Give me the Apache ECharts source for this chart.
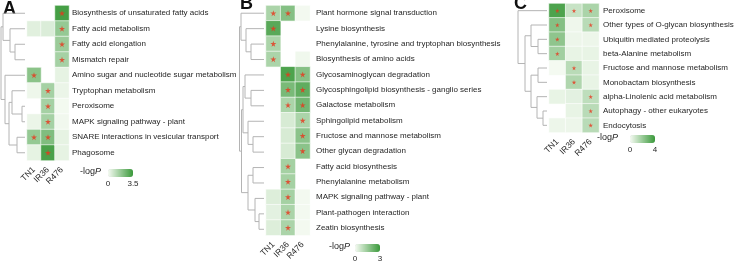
<!DOCTYPE html>
<html lang="en">
<head>
<meta charset="UTF-8">
<title>KEGG heatmaps</title>
<script src="https://cdn.jsdelivr.net/npm/echarts@6/dist/echarts.min.js"></script>
<style>html,body{margin:0;padding:0;background:#fff}</style>
</head>
<body>
<div id="main" style="width:744px;height:263px;"></div>
<script>
// columns shared by all three panels
var cols = ['TN1', 'IR36', 'R476'];

// panel A
var A_rows = ['Biosynthesis of unsaturated fatty acids', 'Fatty acid metabolism', 'Fatty acid elongation', 'Mismatch repair',
  'Amino sugar and nucleotide sugar metabolism', 'Tryptophan metabolism', 'Peroxisome', 'MAPK signaling pathway - plant',
  'SNARE interactions in vesicular transport', 'Phagosome'];
var A_TN1  = [null, 0.4, null, null, 2.0, 0.15, null, 0.2, 1.8, 0.3];
var A_IR36 = [null, 0.5, null, null, null, 1.5, 1.5, 1.5, 2.2, 3.2];
var A_R476 = [3.3, 1.8, 1.7, 1.5, 0.3, 0.2, 0.05, 0.1, 0.3, 0.3];
var A_sig  = ['001', '001', '001', '001', '100', '010', '010', '010', '110', '010'];
var A_link = [[2, 3, 10], [1, 10, 15], [0, 11, 22], [6, 7, 3], [5, 13, 13], [8, 9, 8], [14, 15, 16], [4, 16, 20], [12, 17, 24]];
var A_max = 3.5;

// panel B
var B_rows = ['Plant hormone signal transduction', 'Lysine biosynthesis', 'Phenylalanine, tyrosine and tryptophan biosynthesis',
  'Biosynthesis of amino acids', 'Glycosaminoglycan degradation', 'Glycosphingolipid biosynthesis - ganglio series',
  'Galactose metabolism', 'Sphingolipid metabolism', 'Fructose and mannose metabolism', 'Other glycan degradation',
  'Fatty acid biosynthesis', 'Phenylalanine metabolism', 'MAPK signaling pathway - plant', 'Plant-pathogen interaction',
  'Zeatin biosynthesis'];
var B_TN1  = [1.2, 2.5, 1.2, 1.2, null, null, null, null, null, null, null, null, 0.4, 0.3, 0.4];
var B_IR36 = [1.8, null, null, null, 2.7, 2.0, 1.2, 0.5, 0.5, 0.5, 1.3, 1.3, 1.3, 1.2, 1.2];
var B_R476 = [0.05, null, null, 0.1, 1.8, 2.4, 2.1, 1.2, 1.7, 1.7, null, null, 0.05, 0.05, 0.05];
var B_sig  = ['110', '100', '100', '100', '011', '011', '011', '001', '001', '001', '010', '010', '010', '010', '010'];
var B_link = [[2, 3, 13], [1, 15, 18], [0, 16, 23], [5, 6, 13], [4, 18, 19], [8, 9, 11], [7, 20, 16], [19, 21, 21],
  [10, 11, 11], [13, 14, 5], [12, 24, 9], [23, 25, 16], [22, 26, 22.5], [17, 27, 24.5]];
var B_max = 3;

// panel C
var C_rows = ['Peroxisome', 'Other types of O-glycan biosynthesis', 'Ubiquitin mediated proteolysis', 'beta-Alanine metabolism',
  'Fructose and mannose metabolism', 'Monobactam biosynthesis', 'alpha-Linolenic acid metabolism',
  'Autophagy - other eukaryotes', 'Endocytosis'];
var C_TN1  = [3.6, 2.4, 2.2, 1.8, 0.05, null, 0.3, null, 0.2];
var C_IR36 = [1.0, 0.15, 0.2, 0.3, 1.3, 1.5, 0.4, 0.3, 0.2];
var C_R476 = [1.6, 1.3, 0.2, 0.3, 0.3, 0.3, 1.2, 1.3, 1.3];
var C_sig  = ['111', '101', '100', '100', '010', '010', '001', '001', '001'];
var C_link = [[2, 3, 9], [1, 9, 16], [4, 5, 9], [7, 8, 4], [6, 12, 10], [11, 13, 16], [10, 14, 22], [0, 15, 29]];
var C_max = 4;

var FONT = 'Liberation Sans, Arial, sans-serif';
var TXT = '#262626';
var STAR = 'path://M50,0 L61,35 L98,35 L68,57 L79,91 L50,70 L21,91 L32,57 L2,35 L39,35 Z';

function heatData(c0, c1, c2) {
  var out = [];
  [c0, c1, c2].forEach(function (col, c) {
    col.forEach(function (v, r) { if (v !== null) out.push([c, r, v]); });
  });
  return out;
}
function starData(sig) {
  var out = [];
  sig.forEach(function (s, r) {
    for (var c = 0; c < 3; c++) if (s[c] === '1') out.push([c, r]);
  });
  return out;
}
// turn a linkage list into bracket segments [h, ya, yb, ha, hb]
function dendro(link, n) {
  var y = [], h = [], out = [];
  for (var i = 0; i < n; i++) { y[i] = i; h[i] = 0; }
  link.forEach(function (m, k) {
    out.push([m[2], y[m[0]], y[m[1]], h[m[0]], h[m[1]]]);
    y[n + k] = (y[m[0]] + y[m[1]]) / 2;
    h[n + k] = m[2];
  });
  return out;
}
function renderBracket(params, api) {
  var p1 = api.coord([api.value(3), api.value(1)]);
  var p2 = api.coord([api.value(0), api.value(1)]);
  var p3 = api.coord([api.value(0), api.value(2)]);
  var p4 = api.coord([api.value(4), api.value(2)]);
  return { type: 'polyline', shape: { points: [p1, p2, p3, p4] },
    style: { stroke: '#b4b4b4', lineWidth: 1, fill: null } };
}

var panels = [
  { rows: A_rows, data: heatData(A_TN1, A_IR36, A_R476), sig: A_sig, link: A_link, max: A_max,
    heat: { left: 27, top: 5.5, width: 42, height: 155 }, dend: { left: 1, width: 24 }, labMargin: 3, star: 6,
    leg: [80, 173, 108, 169, 25] },
  { rows: B_rows, data: heatData(B_TN1, B_IR36, B_R476), sig: B_sig, link: B_link, max: B_max,
    heat: { left: 266, top: 5.5, width: 44, height: 231.5 }, dend: { left: 239.5, width: 24.5 }, labMargin: 6, star: 6,
    leg: [329, 248, 355, 244, 25] },
  { rows: C_rows, data: heatData(C_TN1, C_IR36, C_R476), sig: C_sig, link: C_link, max: C_max,
    heat: { left: 549, top: 3.5, width: 50, height: 129 }, dend: { left: 518, width: 29 }, labMargin: 4, star: 4.5,
    leg: [597, 139, 630, 135, 25] }
];

var option = { animation: false, grid: [], xAxis: [], yAxis: [], series: [], visualMap: [], graphic: [] };

panels.forEach(function (p, i) {
  var g = option.grid.length;
  option.grid.push({ left: p.heat.left, top: p.heat.top, width: p.heat.width, height: p.heat.height });
  option.grid.push({ left: p.dend.left, top: p.heat.top, width: p.dend.width, height: p.heat.height });
  option.xAxis.push({
    type: 'category', gridIndex: g, data: cols,
    axisLine: { show: false }, axisTick: { show: false },
    axisLabel: { rotate: 45, interval: 0, margin: 8, fontSize: 8.5, color: TXT, fontFamily: FONT }
  });
  option.yAxis.push({
    type: 'category', gridIndex: g, data: p.rows, inverse: true, position: 'right',
    axisLine: { show: false }, axisTick: { show: false },
    axisLabel: { interval: 0, margin: p.labMargin, fontSize: 8, color: TXT, fontFamily: FONT }
  });
  var maxH = p.link[p.link.length - 1][2];
  option.xAxis.push({ type: 'value', gridIndex: g + 1, inverse: true, min: 0, max: maxH, show: false });
  option.yAxis.push({ type: 'value', gridIndex: g + 1, inverse: true, min: -0.5, max: p.rows.length - 0.5, show: false });

  var sIdx = option.series.length;
  option.series.push({
    type: 'heatmap', xAxisIndex: g, yAxisIndex: g, data: p.data, silent: true,
    itemStyle: { borderColor: '#ffffff', borderWidth: 0.6 }
  });
  option.series.push({
    type: 'scatter', xAxisIndex: g, yAxisIndex: g, data: starData(p.sig), silent: true,
    symbol: STAR, symbolSize: p.star, itemStyle: { color: '#e8341c' }
  });
  option.series.push({
    type: 'custom', xAxisIndex: g + 1, yAxisIndex: g + 1, silent: true,
    data: dendro(p.link, p.rows.length), renderItem: renderBracket
  });
  option.visualMap.push({
    type: 'continuous', seriesIndex: sIdx, min: 0, max: p.max, orient: 'horizontal',
    left: p.leg[2], top: p.leg[3], itemWidth: 8, itemHeight: p.leg[4], padding: 0,
    calculable: false, hoverLink: false, text: null, showLabel: false,
    inRange: { color: ['#f6fbf3', '#3a993a'] }
  });
  option.graphic.push({
    type: 'text', left: p.leg[0], top: p.leg[1] - 6,
    style: { text: '-log{i|P}', rich: { i: { fontStyle: 'italic', fontSize: 9, fontFamily: FONT, fill: TXT } },
      fontSize: 9, fontFamily: FONT, fill: TXT }
  });
  option.graphic.push({
    type: 'text', x: p.leg[2], y: p.leg[3] + 15,
    style: { text: '0', fontSize: 8, fontFamily: FONT, fill: TXT, align: 'center', verticalAlign: 'middle' }
  });
  option.graphic.push({
    type: 'text', x: p.leg[2] + p.leg[4], y: p.leg[3] + 15,
    style: { text: String(p.max), fontSize: 8, fontFamily: FONT, fill: TXT, align: 'center', verticalAlign: 'middle' }
  });
});

[['A', 3, 9.5], ['B', 240, 4], ['C', 514, 4]].forEach(function (t) {
  option.graphic.push({
    type: 'text', x: t[1], y: t[2],
    style: { text: t[0], fontSize: 18, fontWeight: 'bold', fontFamily: FONT, fill: '#111', verticalAlign: 'middle' }
  });
});

var chart = echarts.init(document.getElementById('main'));
chart.setOption(option);
</script>
</body>
</html>
